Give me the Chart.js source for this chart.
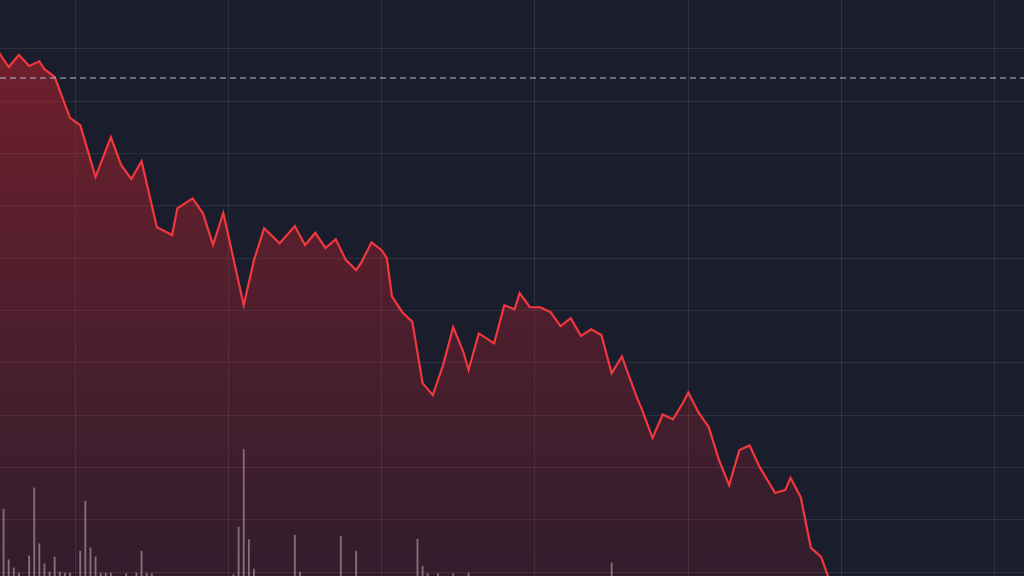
<!DOCTYPE html>
<html>
<head>
<meta charset="utf-8">
<script src="https://cdn.jsdelivr.net/npm/chart.js@4.4.1/dist/chart.umd.min.js"></script>
<style>
  html, body { margin: 0; padding: 0; background: #1a1d2b; overflow: hidden; }
  canvas { display: block; }
</style>
</head>
<body>
<canvas id="price-chart" width="1024" height="576"></canvas>
<script>
// Session minutes and price at each turning point
const minutes = [0,2,4,6,8,9,11,14,16,19,22,24,26,28,31,34,35,38,40,42,44,48,50,52,55,58,60,62,64,66,68,70,71,73,75,76,77,79,81,83,85,87,89,91,92,94,97,99,101,102,104,106,108,110,112,114,116,118,120,122,125,126,128,130,132,134,135,137,139,141,143,145,147,149,152,154,155,157,159,161,164];
const prices  = [199.4,196.5,198.8,196.7,197.6,196.1,194.6,186.8,185.4,175.5,183.1,177.8,175.1,178.5,165.9,164.4,169.5,171.4,168.6,162.5,168.6,151.0,159.6,165.7,162.8,166.1,162.5,164.8,161.9,163.6,159.6,157.7,159.1,163.0,161.5,160.0,152.7,149.7,147.8,136.1,133.8,139.5,146.8,142.0,138.6,145.6,143.7,151.0,150.2,153.3,150.6,150.6,149.7,147.0,148.5,145.1,146.4,145.3,138.0,141.2,133.2,130.9,125.6,130.1,129.2,132.4,134.3,130.5,127.7,121.4,116.6,123.3,124.2,120.0,115.1,115.7,118.0,114.3,104.6,102.9,94.6];

// Volume spikes
const volMinutes = [1,2,3,4,6,7,8,9,10,11,12,13,14,16,17,18,19,20,21,22,25,27,28,29,30,46,47,48,49,50,58,59,67,70,82,83,84,86,89,92,120];
const volumes    = [11.6,2.8,1.4,0.5,3.5,15.3,5.6,2.1,0.7,3.3,0.7,0.5,0.5,4.3,13.0,4.9,3.3,0.5,0.5,0.5,0.4,0.5,4.3,0.5,0.4,0.2,8.5,22.0,6.3,1.2,7.1,0.7,6.9,4.3,6.4,1.7,0.4,0.4,0.4,0.5,2.3];

const prevClose = 194.4;

// Grid positions
const xTicks = [15, 45, 75, 105, 135, 165, 195];
const yTicks = [100, 110, 120, 130, 140, 150, 160, 170, 180, 190, 200];

const X_MIN = 0.3, X_MAX = 200.7;
const GRID = 'rgba(255,255,255,0.085)';

const pricePts = minutes.map((m, i) => ({ x: m, y: prices[i] }));
const volPts   = volMinutes.map((m, i) => ({ x: m, y: volumes[i] }));

function redFill(ctx) {
  const area = ctx.chart.chartArea;
  if (!area) return 'rgba(200,35,45,0.3)';
  const g = ctx.chart.ctx.createLinearGradient(0, area.top, 0, area.bottom);
  g.addColorStop(0, 'rgba(205,35,45,0.52)');
  g.addColorStop(0.5, 'rgba(200,35,50,0.32)');
  g.addColorStop(1, 'rgba(190,35,55,0.15)');
  return g;
}

new Chart(document.getElementById('price-chart'), {
  type: 'line',
  data: {
    datasets: [
      {
        label: 'Prev close',
        data: [{ x: X_MIN, y: prevClose }, { x: X_MAX, y: prevClose }],
        borderColor: 'rgba(170,175,188,0.75)',
        borderWidth: 1.5,
        borderDash: [6, 4],
        pointRadius: 0,
        fill: false,
        order: 0,
      },
      {
        label: 'Price',
        data: pricePts,
        borderColor: '#f2373f',
        borderWidth: 2.2,
        backgroundColor: redFill,
        fill: 'start',
        tension: 0,
        pointRadius: 0,
        order: 1,
      },
      {
        type: 'bar',
        label: 'Volume',
        data: volPts,
        yAxisID: 'yVol',
        backgroundColor: 'rgba(225,218,228,0.5)',
        barThickness: 1.2,
        order: 2,
      },
    ],
  },
  options: {
    responsive: false,
    animation: false,
    devicePixelRatio: 1,
    layout: { padding: 0 },
    plugins: { legend: { display: false }, tooltip: { enabled: false } },
    scales: {
      x: {
        type: 'linear',
        min: X_MIN,
        max: X_MAX,
        offset: false,
        afterBuildTicks: s => { s.ticks = xTicks.map(v => ({ value: v })); },
        ticks: { display: false },
        grid: { color: GRID, drawTicks: false, offset: false },
        border: { display: false },
      },
      y: {
        min: 99.24,
        max: 209.31,
        afterBuildTicks: s => { s.ticks = yTicks.map(v => ({ value: v })); },
        ticks: { display: false },
        grid: { color: GRID, drawTicks: false },
        border: { display: false },
      },
      yVol: {
        display: false,
        min: 0,
        max: 100,
      },
    },
  },
});
</script>
</body>
</html>
